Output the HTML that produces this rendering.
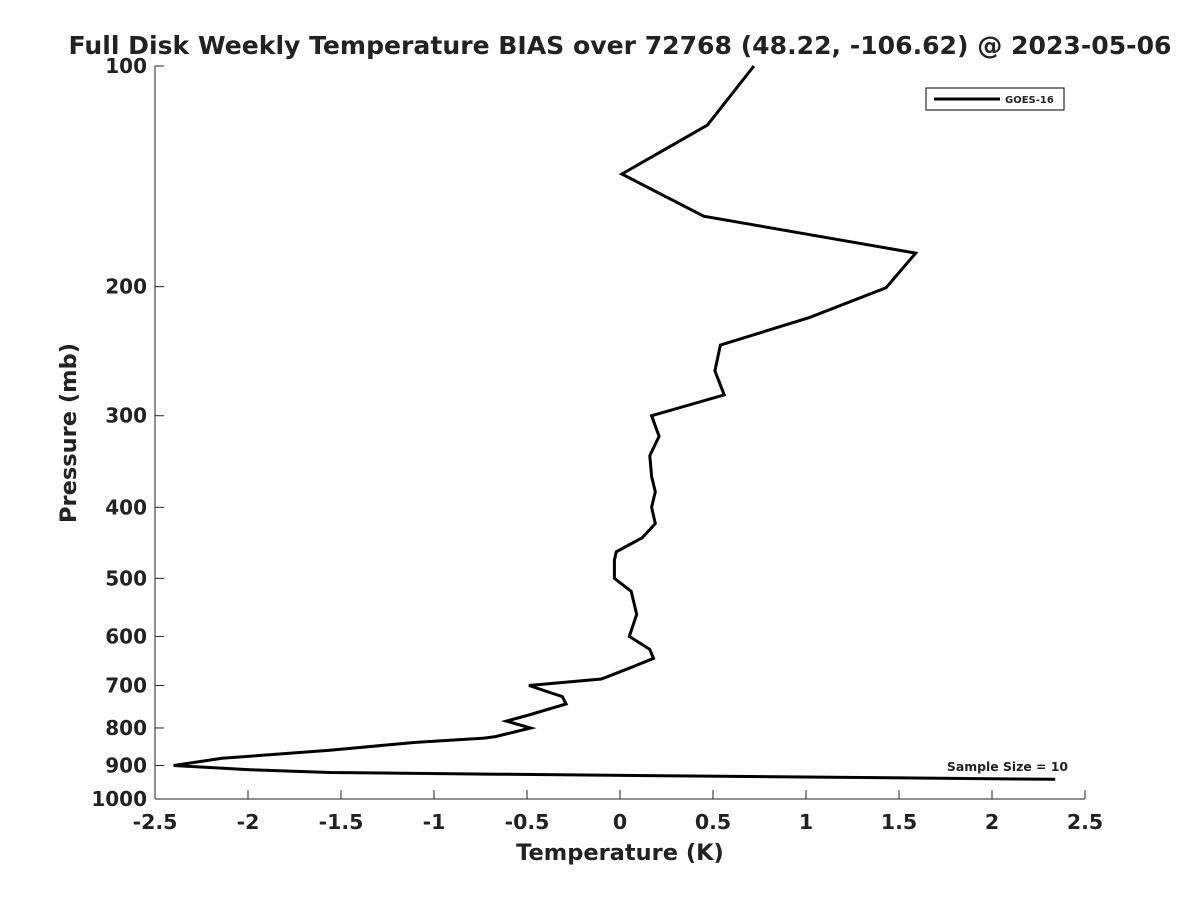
<!DOCTYPE html>
<html><head><meta charset="utf-8"><style>
body{margin:0;background:#fff;font-family:"Liberation Sans",sans-serif}
svg text{font-family:"DejaVu Sans","Liberation Sans",sans-serif;font-weight:bold;fill:#222}
</style></head><body>
<svg id="chart" width="1200" height="900">
<text x="620" y="54" text-anchor="middle" font-size="25" textLength="1103" lengthAdjust="spacingAndGlyphs">Full Disk Weekly Temperature BIAS over 72768 (48.22, -106.62) @ 2023-05-06</text>
<g id="axes"></g>
<text x="620" y="860" text-anchor="middle" font-size="22.5">Temperature (K)</text>
<text transform="translate(76,433) rotate(-90)" text-anchor="middle" font-size="22.5">Pressure (mb)</text>
<g>
<rect x="926" y="88" width="138" height="22" fill="#fff" stroke="#000" stroke-width="1"/>
<line x1="934" y1="99" x2="1000" y2="99" stroke="#000" stroke-width="3"/>
<text x="1005" y="103" font-size="10">GOES-16</text>
</g>
<text x="1068" y="771" text-anchor="end" font-size="12.4">Sample Size = 10</text>
</svg>
<script>
const temps=[0.72,0.47,0.01,0.45,1.59,1.43,1.02,0.54,0.51,0.56,0.17,0.21,0.16,0.17,0.19,0.17,0.19,0.12,-0.02,-0.03,-0.03,0.06,0.09,0.05,0.16,0.18,0.05,-0.10,-0.49,-0.31,-0.29,-0.49,-0.61,-0.48,-0.67,-0.73,-1.10,-1.56,-2.14,-2.40,-1.99,-1.56,-0.65,2.34];
const pressures=[100,120.4,140.4,160.3,180,200.7,220.3,240.3,260.5,281,300,320,340,363,381,400,421,440,460,472,500,521,560,600,625,643,663,686,700,725,742,768,783,800,822,826,837,858,880,900,912,920,925,940];
const xTicks=[-2.5,-2,-1.5,-1,-0.5,0,0.5,1,1.5,2,2.5];
const yTicks=[100,200,300,400,500,600,700,800,900,1000];
const NS="http://www.w3.org/2000/svg";
const L=155,R=1085,T=66,B=799;
function xs(v){return L+(v+2.5)/5*(R-L);}
function ys(p){return T+(Math.log10(p)-2)*(B-T);}
const svg=document.getElementById('chart');
const ax=document.getElementById('axes');
function mk(tag,attrs,parent){const e=document.createElementNS(NS,tag);for(const k in attrs)e.setAttribute(k,attrs[k]);(parent||ax).appendChild(e);return e;}
let a=mk('line',{x1:L,y1:T,x2:L,y2:B,stroke:'#222','stroke-width':1});


a=mk('line',{x1:L,y1:B,x2:R,y2:B,stroke:'#222','stroke-width':1});


xTicks.forEach(v=>{
 const x=xs(v);
 const t=mk('line',{x1:x,y1:B,x2:x,y2:B-9,stroke:'#222'});
 
 
 const l=mk('text',{x:x,y:B+30,'text-anchor':'middle','font-size':20.5});
 l.textContent=String(v);
 
 
});
yTicks.forEach(p=>{
 const y=ys(p);
 const t=mk('line',{x1:L,y1:y,x2:L+9,y2:y,stroke:'#222'});
 
 
 const l=mk('text',{x:L-8,y:y+7,'text-anchor':'end','font-size':20});
 l.textContent=String(p);
 
 
});
const pts=temps.map((t,i)=>xs(t).toFixed(1)+','+ys(pressures[i]).toFixed(1)).join(' ');
const line=mk('polyline',{points:pts,fill:'none',stroke:'#000','stroke-width':3,'stroke-linejoin':'miter'},svg);


</script>
</body></html>
